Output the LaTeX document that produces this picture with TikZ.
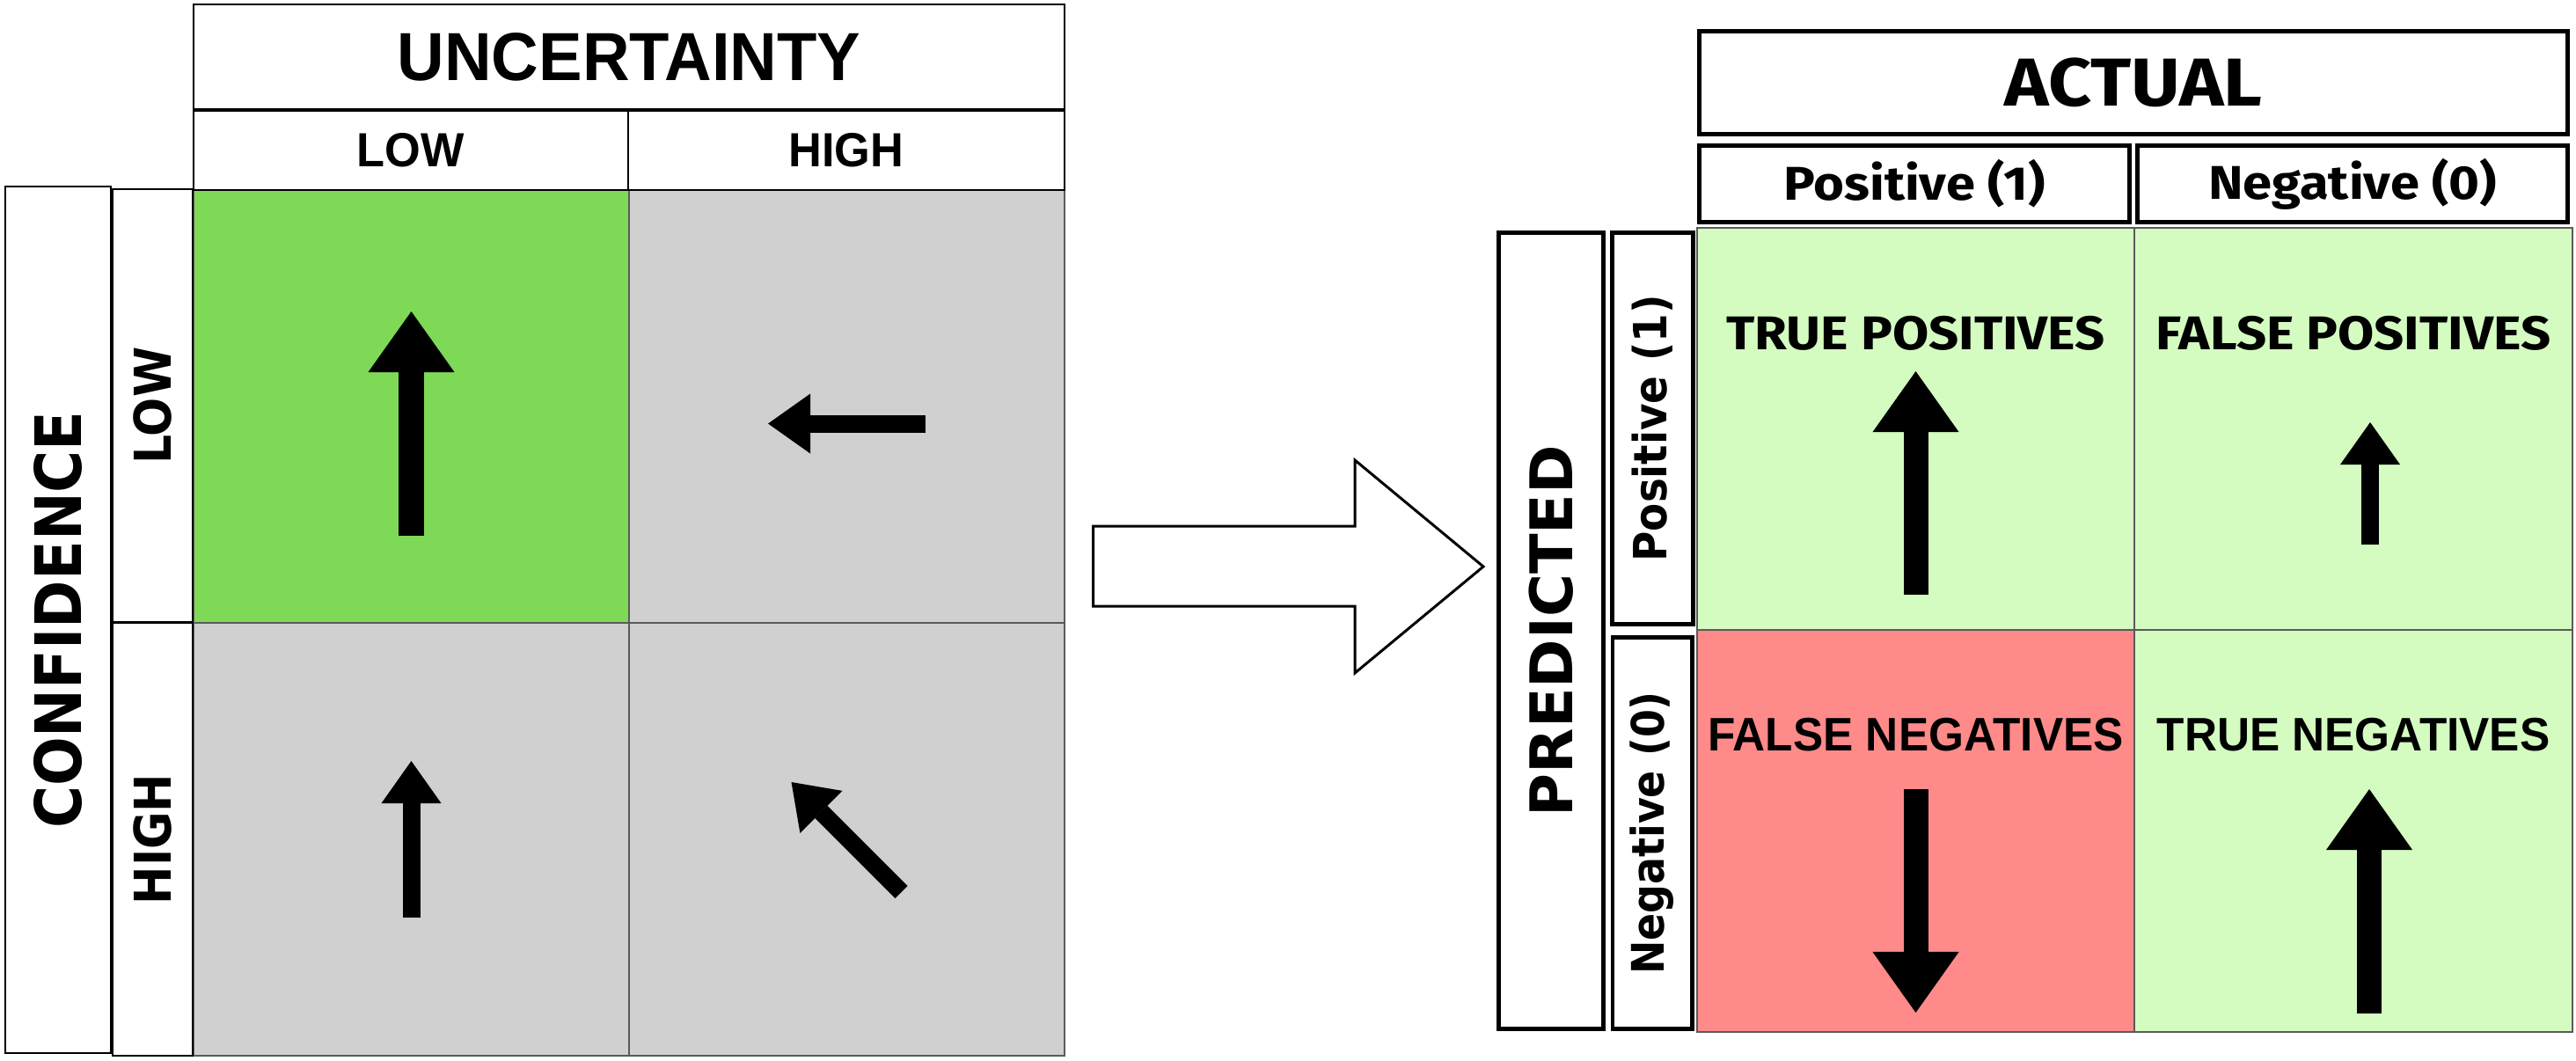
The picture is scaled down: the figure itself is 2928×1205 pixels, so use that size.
\documentclass[tikz,border=0pt]{standalone}
\usepackage{fontspec}
\usepackage{xcolor}
\usetikzlibrary{arrows.meta,positioning}
\newfontfamily\narrowfont[FakeStretch=0.96]{Liberation Sans}
\newfontfamily\widefont[FakeStretch=0.9]{DejaVu Sans}
\newfontfamily\widerfont{DejaVu Sans}
\newfontfamily\plexfont[FakeStretch=1.11]{Fira Sans}
\definecolor{cellgreen}{HTML}{7ED957}
\definecolor{cellgrey}{HTML}{D0D0D0}
\definecolor{palegreen}{HTML}{D4FCC1}
\definecolor{palered}{HTML}{FF8A8A}
\definecolor{gridgrey}{HTML}{5A5A5A}

\begin{document}
\begin{tikzpicture}[x=0.01cm, y=-0.01cm,
    lhead/.style={rectangle, draw=black, line width=0.6pt, fill=white, inner sep=0pt},
    rhead/.style={rectangle, draw=black, line width=1.4pt, fill=white, inner sep=0pt},
    lcell/.style={rectangle, draw=gridgrey, line width=0.5pt, inner sep=0pt,
        minimum width=4.95cm, minimum height=4.92cm},
    rcell/.style={rectangle, draw=gridgrey, line width=0.5pt, inner sep=0pt,
        minimum width=4.97cm, minimum height=4.57cm},
    nfont/.style={font=\narrowfont\bfseries\fontsize{#1}{#1}\selectfont},
    wfont/.style={font=\widefont\bfseries\fontsize{#1}{#1}\selectfont},
    wxfont/.style={font=\widerfont\bfseries\fontsize{#1}{#1}\selectfont},
    pfont/.style={font=\plexfont\bfseries\fontsize{#1}{#1}\selectfont},
    % filled black arrows inside the cells
    bigarr/.style={line width=0.28cm, -{Triangle[width=0.98cm, length=0.69cm, line width=0pt]}},
    smallarr/.style={line width=0.2cm, -{Triangle[width=0.68cm, length=0.48cm, line width=0pt]}}
]
    \useasboundingbox (0,0) rectangle (2928,1205);

    % ---- Left matrix: uncertainty vs confidence ----
    \node[lcell, fill=cellgreen] (c11) at (467.5,462) {};
    \node[lcell, fill=cellgrey]  (c12) at (962.5,462) {};
    \node[lcell, fill=cellgrey]  (c21) at (467.5,954) {};
    \node[lcell, fill=cellgrey]  (c22) at (962.5,954) {};

    \node[lhead, nfont=22, minimum width=9.9cm, minimum height=1.19cm] (unc) at (715,64.5) {UNCERTAINTY};
    \node[lhead, nfont=15.5, minimum width=4.94cm, minimum height=0.9cm] (ulow) at (467,171) {LOW};
    \node[lhead, nfont=15.5, minimum width=4.96cm, minimum height=0.9cm] (uhigh) at (962,171) {HIGH};

    \node[lhead, wfont=20.7, rotate=90, minimum width=9.85cm, minimum height=1.2cm] (conf) at (66,704.5) {CONFIDENCE};
    \node[lhead, wfont=16.4, rotate=90, minimum width=4.92cm, minimum height=0.91cm] (clow) at (173.5,461) {LOW};
    \node[lhead, wfont=16.4, rotate=90, minimum width=4.92cm, minimum height=0.91cm] (chigh) at (173.5,954) {HIGH};

    \draw[bigarr]   ([shift={(0,147)}]c11.center) -- ([shift={(0,-108)}]c11.center);
    \draw[smallarr] ([shift={(89.5,19.5)}]c12.center) -- ([shift={(-89.5,19.5)}]c12.center);
    \draw[smallarr] ([shift={(0,89)}]c21.center) -- ([shift={(0,-89)}]c21.center);
    \draw[smallarr] ([shift={(62,60)}]c22.center) -- ([shift={(-63,-65)}]c22.center);

    % ---- Hollow arrow between the two matrices ----
    \draw[line width=0.85pt, fill=white] (1242.5,598) -- (1540,598) -- (1540,523) -- (1686,644)
        -- (1540,765) -- (1540,689) -- (1242.5,689) -- cycle;

    % ---- Right matrix: confusion matrix ----
    \node[rcell, fill=palegreen] (tp) at (2177.5,487.5) {};
    \node[rcell, fill=palegreen] (fp) at (2675,487.5) {};
    \node[rcell, fill=palered]   (fn) at (2177.5,944.5) {};
    \node[rcell, fill=palegreen] (tn) at (2675,944.5) {};

    \node[rhead, pfont=21.9, minimum width=9.87cm, minimum height=1.17cm] (actual) at (2425,94) {ACTUAL};
    \node[rhead, pfont=15.3, minimum width=4.89cm, minimum height=0.87cm] (apos) at (2176,209) {Positive (1)};
    \node[rhead, pfont=15.3, minimum width=4.89cm, minimum height=0.87cm] (aneg) at (2674,209) {Negative (0)};

    \node[rhead, wxfont=19, rotate=90, minimum width=9.05cm, minimum height=1.19cm] (pred) at (1763,717) {PREDICTED};
    \node[rhead, wfont=14.8, rotate=90, minimum width=4.45cm, minimum height=0.92cm] (ppos) at (1878.5,487) {Positive (1)};
    \node[rhead, wfont=14.5, rotate=90, minimum width=4.45cm, minimum height=0.9cm] (pneg) at (1878,947) {Negative (0)};

    \node[pfont=15.3] (tplab) at ([shift={(0,121)}]tp.north) {TRUE POSITIVES};
    \node[pfont=15.3] (fplab) at ([shift={(0,121)}]fp.north) {FALSE POSITIVES};
    \node[nfont=15.2] (fnlab) at ([shift={(0,120)}]fn.north) {FALSE NEGATIVES};
    \node[nfont=15.2] (tnlab) at ([shift={(0,120)}]tn.north) {TRUE NEGATIVES};

    \draw[bigarr]   ([shift={(0,188.5)}]tp.center) -- ([shift={(0,-65.5)}]tp.center);
    \draw[smallarr] ([shift={(19,131)}]fp.center) -- ([shift={(19,-7.5)}]fp.center);
    \draw[bigarr]   ([shift={(0,-47.5)}]fn.center) -- ([shift={(0,206.5)}]fn.center);
    \draw[bigarr]   ([shift={(18,207.5)}]tn.center) -- ([shift={(18,-47.5)}]tn.center);
\end{tikzpicture}
\end{document}
